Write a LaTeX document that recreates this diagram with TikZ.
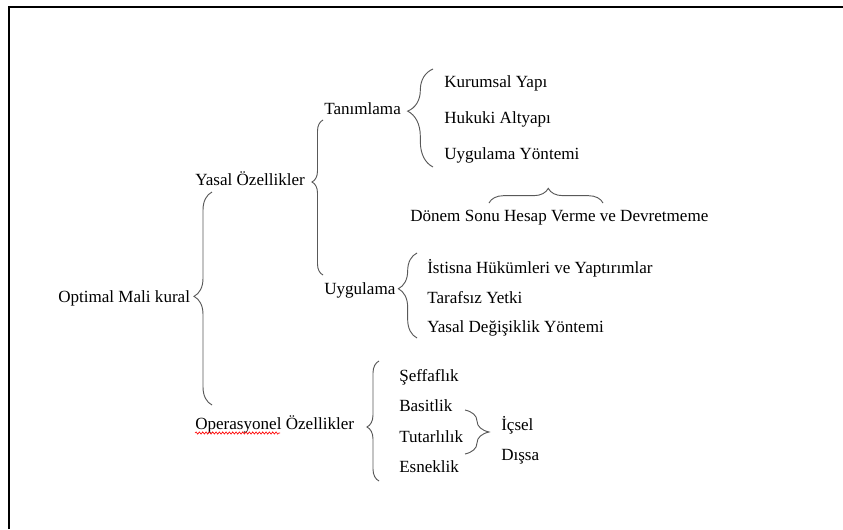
\documentclass[tikz,border=0pt]{standalone}
\usepackage{fontspec}
\setmainfont{Liberation Serif}
\usetikzlibrary{decorations.pathreplacing,decorations.pathmorphing}
\begin{document}
\begin{tikzpicture}[x=0.75pt,y=-0.75pt,
    lbl/.style={anchor=base west,inner sep=0pt,font=\fontsize{12.8}{15}\selectfont},
    brc/.style={draw=black!65,line width=0.7pt,decorate,
      decoration={brace,amplitude=#1}},
    brc/.default=10pt]
\useasboundingbox (0,0) rectangle (843,529);
\draw[line width=1.5pt] (9,529) -- (9,7) -- (843,7);
% level 0
\node (optimal) at (58,302) [lbl] {Optimal Mali kural};
% level 1
\node (yasal) at (195,185) [lbl] {Yasal Özellikler};
\node (operasyonel) at (195,429) [lbl] {Operasyonel Özellikler};
\draw[red,line width=0.5pt,decorate,decoration={snake,amplitude=0.8pt,segment length=2.5pt}]
    (195,433) -- (280,433);
% level 2
\node (tanimlama) at (324,114) [lbl] {Tanımlama};
\node (uygulama) at (324,294) [lbl] {Uygulama};
% level 3
\node (kurumsal) at (444,87) [lbl] {Kurumsal Yapı};
\node (hukuki) at (444,123) [lbl] {Hukuki Altyapı};
\node (yontem) at (444,159) [lbl] {Uygulama Yöntemi};
\node (donem) at (410,221) [lbl] {Dönem Sonu Hesap Verme ve Devretmeme};
\node (istisna) at (427,273) [lbl] {İstisna Hükümleri ve Yaptırımlar};
\node (tarafsiz) at (427,303) [lbl] {Tarafsız Yetki};
\node (degisiklik) at (427,332) [lbl] {Yasal Değişiklik Yöntemi};
\node (seffaflik) at (399,381) [lbl] {Şeffaflık};
\node (basitlik) at (399,411) [lbl] {Basitlik};
\node (tutarlilik) at (399,442) [lbl] {Tutarlılık};
\node (esneklik) at (399,472) [lbl] {Esneklik};
\node (icsel) at (501,430) [lbl] {İçsel};
\node (dissa) at (501,460) [lbl] {Dışsa};
% braces
\coordinate (b1a) at (212,405); \coordinate (b1b) at (212,192);
\coordinate (b2a) at (323,275); \coordinate (b2b) at (323,120);
\coordinate (b3a) at (433,167); \coordinate (b3b) at (433,69);
\coordinate (b4a) at (417,338); \coordinate (b4b) at (417,253);
\coordinate (b5a) at (379,481); \coordinate (b5b) at (379,361);
\coordinate (b6a) at (465,410); \coordinate (b6b) at (465,454);
\coordinate (b7a) at (489,203); \coordinate (b7b) at (603,203);
\draw[brc=13.5pt,decoration={aspect=0.51}] (b1a) -- (b1b);
\draw[brc=8.25pt,decoration={aspect=0.6}] (b2a) -- (b2b);
\draw[brc=19pt,decoration={aspect=0.57}] (b3a) -- (b3b);
\draw[brc=14pt,decoration={aspect=0.58}] (b4a) -- (b4b);
\draw[brc=9pt,decoration={aspect=0.45}] (b5a) -- (b5b);
\draw[brc=18pt] (b6a) -- (b6b);
\draw[brc=11pt,decoration={aspect=0.52}] (b7a) -- (b7b);
\end{tikzpicture}
\end{document}
